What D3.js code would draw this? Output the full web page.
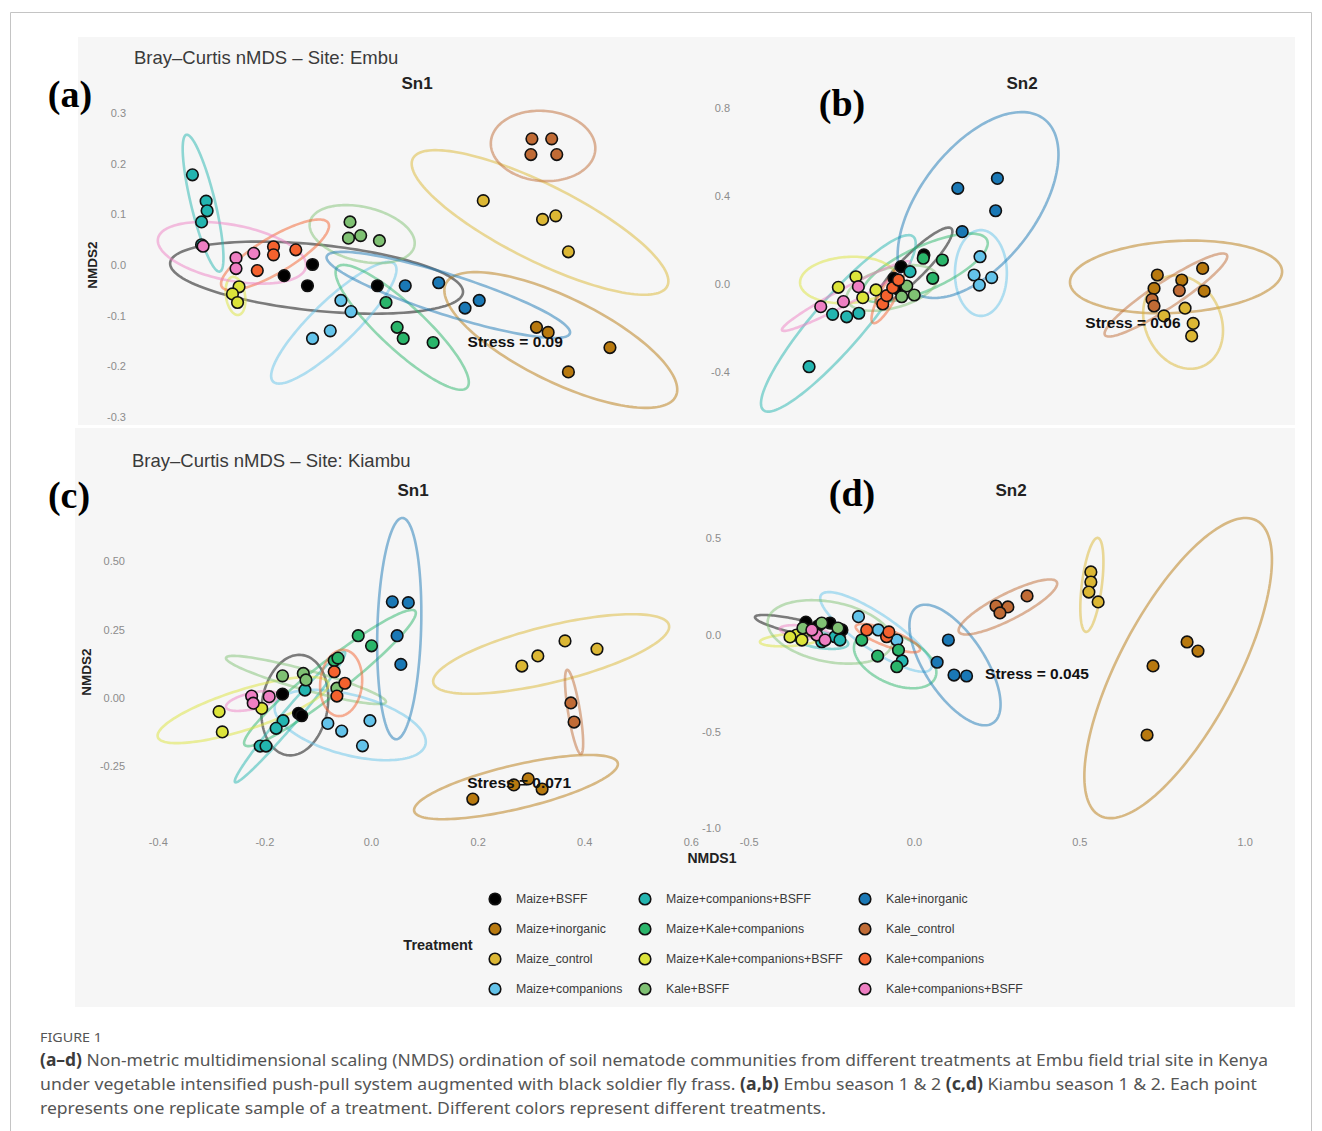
<!DOCTYPE html>
<html>
<head>
<meta charset="utf-8">
<script src="https://cdn.jsdelivr.net/npm/d3@7"></script>
<style>
  html, body { margin: 0; padding: 0; background: #ffffff; }
  svg { display: block; }
</style>
</head>
<body>
<svg id="fig" width="1322" height="1131"></svg>
<script>
// Treatments and their colours (legend order, column by column)
const treatments = [
  "Maize+BSFF", "Maize+inorganic", "Maize_control", "Maize+companions",
  "Maize+companions+BSFF", "Maize+Kale+companions", "Maize+Kale+companions+BSFF", "Kale+BSFF",
  "Kale+inorganic", "Kale_control", "Kale+companions", "Kale+companions+BSFF"
];
const treatmentColors = [
  "#000000", "#b8790f", "#dcb734", "#63c3ea",
  "#23b5b0", "#2ab56a", "#dce43a", "#7fc173",
  "#1a78b5", "#c06b35", "#f4622e", "#ee7fc3"
];

// NMDS scores: [treatment, NMDS1, NMDS2]
const embuSn1Points = [
  ["Maize+BSFF", -0.143, 0.001], ["Maize+BSFF", -0.199, -0.021], ["Maize+BSFF", -0.153, -0.041], ["Maize+BSFF", -0.015, -0.041],
  ["Maize+inorganic", 0.299, -0.123], ["Maize+inorganic", 0.322, -0.133], ["Maize+inorganic", 0.444, -0.163], ["Maize+inorganic", 0.362, -0.211],
  ["Maize_control", 0.194, 0.127], ["Maize_control", 0.311, 0.090], ["Maize_control", 0.337, 0.097], ["Maize_control", 0.362, 0.026],
  ["Maize+companions", -0.087, -0.070], ["Maize+companions", -0.067, -0.092], ["Maize+companions", -0.143, -0.145], ["Maize+companions", -0.108, -0.130],
  ["Maize+companions+BSFF", -0.380, 0.178], ["Maize+companions+BSFF", -0.353, 0.126], ["Maize+companions+BSFF", -0.351, 0.107], ["Maize+companions+BSFF", -0.362, 0.085], ["Maize+companions+BSFF", -0.362, 0.040],
  ["Maize+Kale+companions", 0.002, -0.074], ["Maize+Kale+companions", 0.024, -0.123], ["Maize+Kale+companions", 0.036, -0.145], ["Maize+Kale+companions", 0.095, -0.153],
  ["Maize+Kale+companions+BSFF", -0.288, -0.043], ["Maize+Kale+companions+BSFF", -0.301, -0.057], ["Maize+Kale+companions+BSFF", -0.291, -0.074],
  ["Kale+BSFF", -0.069, 0.085], ["Kale+BSFF", -0.072, 0.053], ["Kale+BSFF", -0.048, 0.058], ["Kale+BSFF", -0.011, 0.048],
  ["Kale+inorganic", 0.040, -0.041], ["Kale+inorganic", 0.106, -0.035], ["Kale+inorganic", 0.158, -0.085], ["Kale+inorganic", 0.186, -0.070],
  ["Kale_control", 0.290, 0.249], ["Kale_control", 0.329, 0.249], ["Kale_control", 0.288, 0.218], ["Kale_control", 0.339, 0.218],
  ["Kale+companions", -0.220, 0.036], ["Kale+companions", -0.220, 0.020], ["Kale+companions", -0.176, 0.030], ["Kale+companions", -0.252, -0.011],
  ["Kale+companions+BSFF", -0.294, 0.014], ["Kale+companions+BSFF", -0.294, -0.007], ["Kale+companions+BSFF", -0.259, 0.023], ["Kale+companions+BSFF", -0.359, 0.037]
];
const embuSn2Points = [
  ["Maize+BSFF", -0.164, 0.132], ["Maize+BSFF", -0.268, 0.079], ["Maize+BSFF", -0.300, 0.026], ["Maize+BSFF", -0.282, -0.023],
  ["Maize+inorganic", 0.897, 0.041], ["Maize+inorganic", 0.882, -0.020], ["Maize+inorganic", 1.008, 0.018], ["Maize+inorganic", 1.103, 0.071], ["Maize+inorganic", 1.110, -0.032],
  ["Maize_control", 1.023, -0.110], ["Maize_control", 0.927, -0.145], ["Maize_control", 1.060, -0.179], ["Maize_control", 1.053, -0.236],
  ["Maize+companions", 0.091, 0.124], ["Maize+companions", 0.064, 0.041], ["Maize+companions", 0.144, 0.029], ["Maize+companions", 0.088, -0.005],
  ["Maize+companions+BSFF", -0.579, -0.138], ["Maize+companions+BSFF", -0.515, -0.149], ["Maize+companions+BSFF", -0.460, -0.133], ["Maize+companions+BSFF", -0.686, -0.376], ["Maize+companions+BSFF", -0.227, 0.056],
  ["Maize+Kale+companions", -0.167, 0.117], ["Maize+Kale+companions", -0.080, 0.109], ["Maize+Kale+companions", -0.124, 0.026],
  ["Maize+Kale+companions+BSFF", -0.473, 0.033], ["Maize+Kale+companions+BSFF", -0.553, -0.015], ["Maize+Kale+companions+BSFF", -0.442, -0.062], ["Maize+Kale+companions+BSFF", -0.382, -0.027],
  ["Kale+BSFF", -0.242, -0.009], ["Kale+BSFF", -0.208, -0.050], ["Kale+BSFF", -0.265, -0.058],
  ["Kale+inorganic", -0.010, 0.435], ["Kale+inorganic", 0.170, 0.480], ["Kale+inorganic", 0.162, 0.333], ["Kale+inorganic", 0.010, 0.238],
  ["Kale_control", 0.873, -0.070], ["Kale_control", 0.882, -0.100], ["Kale_control", 0.997, -0.030],
  ["Kale+companions", -0.351, -0.091], ["Kale+companions", -0.333, -0.053], ["Kale+companions", -0.306, -0.017], ["Kale+companions", -0.280, 0.018],
  ["Kale+companions+BSFF", -0.462, -0.012], ["Kale+companions+BSFF", -0.530, -0.080], ["Kale+companions+BSFF", -0.633, -0.103]
];
const kiambuSn1Points = [
  ["Maize+BSFF", -0.166, 0.014], ["Maize+BSFF", -0.136, -0.056], ["Maize+BSFF", -0.130, -0.065],
  ["Maize+inorganic", 0.191, -0.370], ["Maize+inorganic", 0.268, -0.318], ["Maize+inorganic", 0.295, -0.296], ["Maize+inorganic", 0.321, -0.333],
  ["Maize_control", 0.283, 0.117], ["Maize_control", 0.313, 0.154], ["Maize_control", 0.364, 0.209], ["Maize_control", 0.424, 0.179],
  ["Maize+companions", -0.081, -0.093], ["Maize+companions", -0.055, -0.121], ["Maize+companions", -0.002, -0.083], ["Maize+companions", -0.016, -0.175],
  ["Maize+companions+BSFF", -0.165, -0.083], ["Maize+companions+BSFF", -0.178, -0.111], ["Maize+companions+BSFF", -0.208, -0.176], ["Maize+companions+BSFF", -0.197, -0.176], ["Maize+companions+BSFF", -0.124, 0.029],
  ["Maize+Kale+companions", -0.024, 0.228], ["Maize+Kale+companions", 0.001, 0.191], ["Maize+Kale+companions", -0.069, 0.137], ["Maize+Kale+companions", -0.062, 0.146],
  ["Maize+Kale+companions+BSFF", -0.285, -0.050], ["Maize+Kale+companions+BSFF", -0.279, -0.124], ["Maize+Kale+companions+BSFF", -0.205, -0.038],
  ["Kale+BSFF", -0.166, 0.081], ["Kale+BSFF", -0.127, 0.090], ["Kale+BSFF", -0.122, 0.066], ["Kale+BSFF", -0.064, 0.036],
  ["Kale+inorganic", 0.040, 0.352], ["Kale+inorganic", 0.070, 0.349], ["Kale+inorganic", 0.049, 0.228], ["Kale+inorganic", 0.056, 0.123],
  ["Kale_control", 0.375, -0.018], ["Kale_control", 0.381, -0.088],
  ["Kale+companions", -0.069, 0.096], ["Kale+companions", -0.049, 0.054], ["Kale+companions", -0.064, 0.007],
  ["Kale+companions+BSFF", -0.224, 0.007], ["Kale+companions+BSFF", -0.191, 0.005], ["Kale+companions+BSFF", -0.221, -0.019]
];
const kiambuSn2Points = [
  ["Maize+BSFF", -0.327, 0.067], ["Maize+BSFF", -0.290, 0.047], ["Maize+BSFF", -0.254, 0.062], ["Maize+BSFF", -0.218, 0.026],
  ["Maize+inorganic", 0.826, -0.036], ["Maize+inorganic", 0.859, -0.083], ["Maize+inorganic", 0.723, -0.160], ["Maize+inorganic", 0.705, -0.517],
  ["Maize_control", 0.535, 0.326], ["Maize_control", 0.535, 0.274], ["Maize_control", 0.529, 0.222], ["Maize_control", 0.557, 0.171],
  ["Maize+companions", -0.168, 0.095], ["Maize+companions", -0.108, 0.026], ["Maize+companions", -0.052, -0.026],
  ["Maize+companions+BSFF", -0.239, -0.009], ["Maize+companions+BSFF", -0.279, -0.035], ["Maize+companions+BSFF", -0.224, -0.026], ["Maize+companions+BSFF", -0.036, -0.134],
  ["Maize+Kale+companions", -0.047, -0.078], ["Maize+Kale+companions", -0.110, -0.109], ["Maize+Kale+companions", -0.052, -0.164], ["Maize+Kale+companions", -0.158, -0.026],
  ["Maize+Kale+companions+BSFF", -0.355, 0.000], ["Maize+Kale+companions+BSFF", -0.339, -0.026], ["Maize+Kale+companions+BSFF", -0.375, -0.010],
  ["Kale+BSFF", -0.279, 0.062], ["Kale+BSFF", -0.230, 0.036], ["Kale+BSFF", -0.336, 0.036],
  ["Kale+inorganic", 0.104, -0.026], ["Kale+inorganic", 0.070, -0.141], ["Kale+inorganic", 0.121, -0.207], ["Kale+inorganic", 0.159, -0.212],
  ["Kale_control", 0.342, 0.202], ["Kale_control", 0.248, 0.150], ["Kale_control", 0.284, 0.145], ["Kale_control", 0.260, 0.114],
  ["Kale+companions", -0.143, 0.026], ["Kale+companions", -0.083, -0.009], ["Kale+companions", -0.076, 0.016],
  ["Kale+companions+BSFF", -0.294, 0.000], ["Kale+companions+BSFF", -0.309, 0.026], ["Kale+companions+BSFF", -0.269, -0.026]
];

// Confidence ellipses: [treatment, centre x, centre y, semi-axis 1 (dx, dy), semi-axis 2 (dx, dy)]
const embuSn1Ellipses = [
  ["Maize+BSFF", -0.135, -0.025, 0.289, -0.029, -0.005, -0.065],
  ["Maize+inorganic", 0.347, -0.148, 0.227, -0.111, -0.036, -0.075],
  ["Maize_control", 0.306, 0.084, 0.251, -0.126, -0.034, -0.067],
  ["Maize+companions", -0.101, -0.114, 0.120, 0.116, 0.030, -0.031],
  ["Maize+companions+BSFF", -0.359, 0.122, 0.033, -0.135, -0.023, -0.006],
  ["Maize+Kale+companions", 0.034, -0.123, 0.128, -0.119, -0.030, -0.032],
  ["Maize+Kale+companions+BSFF", -0.295, -0.061, 0.006, -0.0375, -0.0186, -0.003],
  ["Kale+BSFF", -0.045, 0.061, 0.103, -0.024, -0.012, -0.052],
  ["Kale+inorganic", 0.125, -0.059, 0.240, -0.076, -0.012, -0.038],
  ["Kale_control", 0.312, 0.235, 0.103, -0.008, -0.005, -0.069],
  ["Kale+companions", -0.217, 0.020, 0.105, 0.063, 0.018, -0.030],
  ["Kale+companions+BSFF", -0.302, 0.024, 0.146, -0.028, -0.010, -0.054]
];
const embuSn2Ellipses = [
  ["Maize+BSFF", -0.209, 0.082, 0.170, 0.170, 0.039, -0.039],
  ["Maize+inorganic", 0.982, 0.032, 0.482, 0.027, 0.009, -0.163],
  ["Maize_control", 1.014, -0.173, 0.091, -0.200, -0.157, -0.071],
  ["Maize+companions", 0.095, 0.050, 0.000, 0.195, 0.118, 0.000],
  ["Maize+companions+BSFF", -0.553, -0.179, 0.341, 0.394, 0.086, -0.075],
  ["Maize+Kale+companions", -0.159, 0.073, 0.282, 0.127, 0.041, -0.091],
  ["Maize+Kale+companions+BSFF", -0.509, 0.018, 0.218, 0.014, 0.006, -0.105],
  ["Kale+BSFF", -0.309, -0.018, 0.205, 0.055, 0.024, -0.088],
  ["Kale+inorganic", 0.082, 0.359, 0.300, 0.391, 0.209, -0.160],
  ["Kale_control", 0.936, -0.050, 0.277, 0.182, 0.032, -0.050],
  ["Kale+companions", -0.327, -0.050, 0.068, 0.127, 0.032, -0.017],
  ["Kale+companions+BSFF", -0.518, -0.055, 0.291, 0.155, 0.017, -0.032]
];
const kiambuSn1Ellipses = [
  ["Maize+BSFF", -0.143, -0.026, 0.015, 0.183, 0.061, -0.019],
  ["Maize+inorganic", 0.272, -0.326, 0.191, 0.088, 0.009, -0.078],
  ["Maize_control", 0.338, 0.161, 0.221, 0.106, 0.013, -0.100],
  ["Maize+companions", -0.039, -0.099, 0.141, -0.073, -0.015, -0.106],
  ["Maize+companions+BSFF", -0.152, -0.070, 0.103, 0.238, 0.011, -0.019],
  ["Maize+Kale+companions", -0.077, 0.073, 0.160, 0.245, 0.019, -0.046],
  ["Maize+Kale+companions+BSFF", -0.240, -0.044, 0.160, 0.099, 0.011, -0.070],
  ["Kale+BSFF", -0.122, 0.066, 0.150, -0.081, -0.005, -0.035],
  ["Kale+inorganic", 0.053, 0.254, 0.006, 0.405, 0.041, -0.002],
  ["Kale_control", 0.381, -0.051, 0.013, -0.154, -0.011, -0.004],
  ["Kale+companions", -0.056, 0.055, 0.006, 0.121, 0.039, -0.007],
  ["Kale+companions+BSFF", -0.223, -0.011, 0.049, 0.022, 0.003, -0.029]
];
const kiambuSn2Ellipses = [
  ["Maize+BSFF", -0.345, 0.041, 0.136, -0.052, -0.005, -0.035],
  ["Maize+inorganic", 0.799, -0.171, 0.237, 0.763, 0.156, -0.142],
  ["Maize_control", 0.538, 0.259, 0.018, 0.243, 0.030, -0.007],
  ["Maize+companions", -0.115, 0.016, 0.166, -0.191, -0.030, -0.077],
  ["Maize+companions+BSFF", -0.284, -0.026, 0.085, -0.021, -0.003, -0.041],
  ["Maize+Kale+companions", -0.057, -0.129, 0.121, -0.093, -0.030, -0.113],
  ["Maize+Kale+companions+BSFF", -0.375, -0.026, 0.091, 0.010, 0.001, -0.031],
  ["Kale+BSFF", -0.254, 0.016, 0.188, -0.062, -0.017, -0.152],
  ["Kale+inorganic", 0.124, -0.155, 0.115, -0.300, -0.076, -0.085],
  ["Kale_control", 0.284, 0.145, 0.148, 0.129, 0.018, -0.060],
  ["Kale+companions", -0.079, -0.016, 0.097, -0.062, -0.009, -0.039],
  ["Kale+companions+BSFF", -0.330, 0.016, 0.076, -0.016, -0.002, -0.031]
];

// Stress annotations: [label, NMDS1, NMDS2]
const stressLabels = [
  ["Stress = 0.09", 0.257, -0.152],
  ["Stress = 0.06", 0.786, -0.177],
  ["Stress = 0.071", 0.278, -0.311],
  ["Stress = 0.045", 0.372, -0.202]
];

// Tick values
const embuSn1YTicks = [-0.3, -0.2, -0.1, 0.0, 0.1, 0.2, 0.3];
const embuSn2YTicks = [-0.4, 0.0, 0.4, 0.8];
const kiambuSn1YTicks = [-0.25, 0.00, 0.25, 0.50];
const kiambuSn1XTicks = [-0.4, -0.2, 0.0, 0.2, 0.4, 0.6];
const kiambuSn2YTicks = [-1.0, -0.5, 0.0, 0.5];
const kiambuSn2XTicks = [-0.5, 0.0, 0.5, 1.0];

const SANS = "Liberation Sans, Arial, Helvetica, sans-serif";
const SERIF = "Liberation Serif, Times New Roman, serif";
const loc = d3.formatLocale({ decimal: ".", thousands: ",", grouping: [3], currency: ["", ""], minus: "-" });
const color = d3.scaleOrdinal(treatments, treatmentColors);

const svg = d3.select("#fig");

// Frame around the figure
svg.append("path")
  .attr("d", "M10.5,1131 V12.5 H1311.5 V1131")
  .attr("fill", "none").attr("stroke", "#c4c4c4").attr("stroke-width", 1);

// Plot backgrounds (two image strips)
svg.append("rect").attr("x", 78).attr("y", 37).attr("width", 1217).attr("height", 388).attr("fill", "#f6f6f6");
svg.append("rect").attr("x", 75).attr("y", 428).attr("width", 1220).attr("height", 579).attr("fill", "#f6f6f6");

const panels = [
  { points: embuSn1Points, ellipses: embuSn1Ellipses, stress: stressLabels[0],
    xDomain: [-0.4, 0.6], xRange: [182.3, 689], yDomain: [-0.3, 0.3], yRange: [417, 113],
    yTicks: embuSn1YTicks, yFmt: ".1f", yAxisX: 128 },
  { points: embuSn2Points, ellipses: embuSn2Ellipses, stress: stressLabels[1],
    xDomain: [-1.0, 1.5], xRange: [740, 1290], yDomain: [-0.4, 0.8], yRange: [372, 108],
    yTicks: embuSn2YTicks, yFmt: ".1f", yAxisX: 732 },
  { points: kiambuSn1Points, ellipses: kiambuSn1Ellipses, stress: stressLabels[2],
    xDomain: [-0.4, 0.6], xRange: [157.8, 690.8], yDomain: [-0.25, 0.5], yRange: [766.3, 561.4],
    yTicks: kiambuSn1YTicks, yFmt: ".2f", yAxisX: 127,
    xTicks: kiambuSn1XTicks, xFmt: ".1f", xAxisY: 836 },
  { points: kiambuSn2Points, ellipses: kiambuSn2Ellipses, stress: stressLabels[3],
    xDomain: [-0.5, 1.0], xRange: [748.7, 1244.6], yDomain: [-1.0, 0.5], yRange: [828.4, 538.3],
    yTicks: kiambuSn2YTicks, yFmt: ".1f", yAxisX: 723,
    xTicks: kiambuSn2XTicks, xFmt: ".1f", xAxisY: 836 }
];

const angles = d3.range(0, 2 * Math.PI, Math.PI / 72);

panels.forEach(cfg => {
  const g = svg.append("g");
  const x = d3.scaleLinear().domain(cfg.xDomain).range(cfg.xRange);
  const y = d3.scaleLinear().domain(cfg.yDomain).range(cfg.yRange);
  const line = d3.line().x(p => x(p[0])).y(p => y(p[1])).curve(d3.curveLinearClosed);

  g.selectAll("path.ell").data(cfg.ellipses).join("path")
    .attr("class", "ell")
    .attr("d", e => line(angles.map(t => [
      e[1] + e[3] * Math.cos(t) + e[5] * Math.sin(t),
      e[2] + e[4] * Math.cos(t) + e[6] * Math.sin(t)
    ])))
    .attr("fill", "none")
    .attr("stroke", e => color(e[0]))
    .attr("stroke-opacity", 0.5)
    .attr("stroke-width", 2.6);

  g.selectAll("circle.pt").data(cfg.points).join("circle")
    .attr("class", "pt")
    .attr("cx", p => x(p[1]))
    .attr("cy", p => y(p[2]))
    .attr("r", 5.8)
    .attr("fill", p => color(p[0]))
    .attr("stroke", "#111")
    .attr("stroke-width", 1.6);

  const ya = g.append("g")
    .attr("transform", `translate(${cfg.yAxisX},0)`)
    .call(d3.axisLeft(y).tickValues(cfg.yTicks).tickSize(0).tickPadding(2).tickFormat(loc.format(cfg.yFmt)));
  ya.select(".domain").remove();
  ya.attr("font-family", SANS).attr("font-size", 11);
  ya.selectAll("text").attr("fill", "#8c8c8c");

  if (cfg.xTicks) {
    const xa = g.append("g")
      .attr("transform", `translate(0,${cfg.xAxisY})`)
      .call(d3.axisBottom(x).tickValues(cfg.xTicks).tickSize(0).tickPadding(2).tickFormat(loc.format(cfg.xFmt)));
    xa.select(".domain").remove();
    xa.attr("font-family", SANS).attr("font-size", 11);
    xa.selectAll("text").attr("fill", "#8c8c8c");
  }

  g.append("text")
    .attr("x", x(cfg.stress[1])).attr("y", y(cfg.stress[2]))
    .attr("dy", "0.35em")
    .attr("text-anchor", "middle")
    .attr("font-family", SANS).attr("font-weight", "bold").attr("font-size", 15.5)
    .attr("fill", "#111")
    .text(cfg.stress[0]);
});

// Titles and panel tags
function label(x, y, txt, opts = {}) {
  const t = svg.append("text").attr("x", x).attr("y", y)
    .attr("font-family", opts.family || SANS)
    .attr("font-size", opts.size || 12)
    .attr("font-weight", opts.weight || "normal")
    .attr("fill", opts.fill || "#222")
    .attr("text-anchor", opts.anchor || "start")
    .text(txt);
  if (opts.rotate) t.attr("transform", `rotate(-90,${x},${y})`);
  return t;
}
label(134, 64, "Bray\u2013Curtis nMDS \u2013 Site: Embu", { size: 18.5, fill: "#3a3a3a" });
label(132, 467, "Bray\u2013Curtis nMDS \u2013 Site: Kiambu", { size: 18.5, fill: "#3a3a3a" });
label(417, 89, "Sn1", { size: 17, weight: "bold", anchor: "middle" });
label(1022, 89, "Sn2", { size: 17, weight: "bold", anchor: "middle" });
label(413, 496, "Sn1", { size: 17, weight: "bold", anchor: "middle" });
label(1011, 496, "Sn2", { size: 17, weight: "bold", anchor: "middle" });
label(70, 107, "(a)", { family: SERIF, size: 38, weight: "bold", anchor: "middle", fill: "#000" });
label(842, 116, "(b)", { family: SERIF, size: 38, weight: "bold", anchor: "middle", fill: "#000" });
label(69, 508, "(c)", { family: SERIF, size: 38, weight: "bold", anchor: "middle", fill: "#000" });
label(852, 506, "(d)", { family: SERIF, size: 38, weight: "bold", anchor: "middle", fill: "#000" });
label(97, 265, "NMDS2", { size: 13.5, weight: "bold", anchor: "middle", rotate: true });
label(91, 672, "NMDS2", { size: 13.5, weight: "bold", anchor: "middle", rotate: true });
label(712, 863, "NMDS1", { size: 14, weight: "bold", anchor: "middle" });

// Legend
label(438, 950, "Treatment", { size: 14.5, weight: "bold", anchor: "middle" });
const legendCols = [495, 645, 865];
const legendRows = [899, 929, 959, 989];
const leg = svg.append("g").selectAll("g").data(treatments).join("g")
  .attr("transform", (d, i) => `translate(${legendCols[Math.floor(i / 4)]},${legendRows[i % 4]})`);
leg.append("circle").attr("r", 5.8).attr("fill", d => color(d)).attr("stroke", "#111").attr("stroke-width", 1.6);
leg.append("text").attr("x", 21).attr("dy", "0.35em")
  .attr("font-family", SANS).attr("font-size", 12.3).attr("fill", "#3a3a3a")
  .text(d => d);

// Caption
const CAP = "Noto Sans, Open Sans, sans-serif";
svg.append("text").attr("x", 40).attr("y", 1042)
  .attr("font-family", CAP).attr("font-size", 12).attr("fill", "#555")
  .attr("textLength", 62).attr("lengthAdjust", "spacingAndGlyphs")
  .text("FIGURE 1");

const captionLines = [
  { parts: [["(a\u2013d)", true], [" Non-metric multidimensional scaling (NMDS) ordination of soil nematode communities from different treatments at Embu field trial site in Kenya", false]], width: 1228 },
  { parts: [["under vegetable intensified push-pull system augmented with black soldier fly frass. ", false], ["(a,b)", true], [" Embu season 1 & 2 ", false], ["(c,d)", true], [" Kiambu season 1 & 2. Each point", false]], width: 1217 },
  { parts: [["represents one replicate sample of a treatment. Different colors represent different treatments.", false]], width: 786 }
];
captionLines.forEach((ln, i) => {
  const t = svg.append("text").attr("x", 40).attr("y", 1066 + i * 24)
    .attr("font-family", CAP).attr("font-size", 17).attr("fill", "#555")
    .attr("textLength", ln.width).attr("lengthAdjust", "spacingAndGlyphs");
  ln.parts.forEach(p => {
    t.append("tspan").attr("font-weight", p[1] ? "bold" : "normal")
      .attr("fill", p[1] ? "#3c3c3c" : "#555").text(p[0]);
  });
});
</script>
</body>
</html>
